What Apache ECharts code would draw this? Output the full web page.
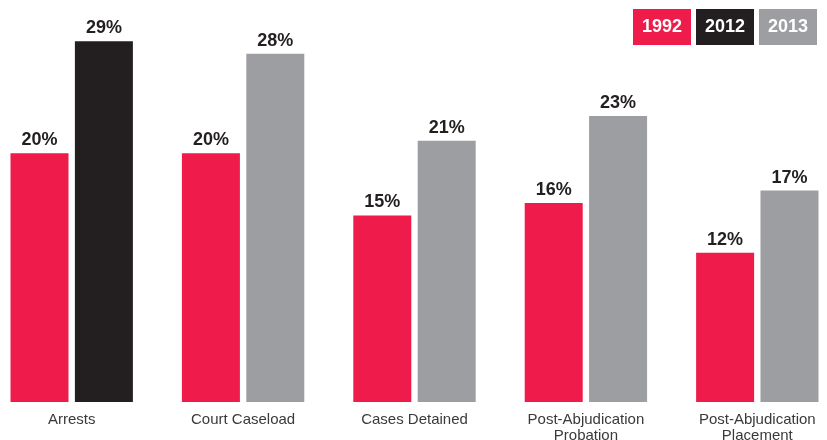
<!DOCTYPE html>
<html>
<head>
<meta charset="utf-8">
<script src="https://cdn.jsdelivr.net/npm/echarts@6/dist/echarts.min.js"></script>
<style>
  html, body { margin: 0; padding: 0; background: #fff; overflow: hidden; }
  #chart { position: absolute; left: -14px; top: 0; width: 857px; height: 440px; }
</style>
</head>
<body>
<div id="chart"></div>
<script>
const categories = ['Arrests', 'Court Caseload', 'Cases Detained', 'Post-Abjudication\nProbation', 'Post-Abjudication\nPlacement'];
const values1992 = [20, 20, 15, 16, 12];
const valuesLater = [29, 28, 21, 23, 17];
const laterYears = ['2012', '2013', '2013', '2013', '2013'];
const legendYears = ['1992', '2012', '2013'];

const colors = { '1992': '#ee1b4b', '2012': '#231f20', '2013': '#9d9ea2' };
const font = '"Liberation Sans", Arial, sans-serif';

let chart = echarts.init(document.getElementById('chart'));

// legend boxes (div is shifted 14px left)
let legendItems = legendYears.map((y, i) => ({
  type: 'group',
  left: 647 + i * 63,
  top: 9,
  children: [
    { type: 'rect', shape: { x: 0, y: 0, width: 58, height: 36 }, style: { fill: colors[y] } },
    {
      type: 'text', x: 29, y: 18,
      style: { text: y, fill: '#fff', font: 'bold 18px ' + font, align: 'center', verticalAlign: 'middle' }
    }
  ]
}));

let labelStyle = {
  show: true,
  position: 'top',
  distance: 4,
  formatter: '{c}%',
  color: '#231f20',
  fontSize: 18,
  fontWeight: 'bold',
  fontFamily: font
};

let options = {
  animation: false,
  grid: { left: 0, right: 0, top: 4, bottom: 38, outerBoundsMode: 'none', containLabel: false },
  xAxis: {
    type: 'category',
    data: categories,
    axisLine: { show: false },
    axisTick: { show: false },
    axisLabel: {
      color: '#3a3a3a',
      fontSize: 15,
      fontFamily: font,
      lineHeight: 16,
      margin: 10,
      interval: 0
    }
  },
  yAxis: {
    type: 'value',
    min: 0,
    max: 32,
    show: false,
    splitLine: { show: false }
  },
  graphic: legendItems,
  series: [
    {
      name: '1992',
      type: 'bar',
      barWidth: 58,
      barGap: '11%',
      data: values1992,
      itemStyle: { color: colors['1992'] },
      label: labelStyle
    },
    {
      name: 'later',
      type: 'bar',
      barWidth: 58,
      data: valuesLater.map((v, i) => ({ value: v, itemStyle: { color: colors[laterYears[i]] } })),
      label: labelStyle
    }
  ]
};
chart.setOption(options);
</script>
</body>
</html>
